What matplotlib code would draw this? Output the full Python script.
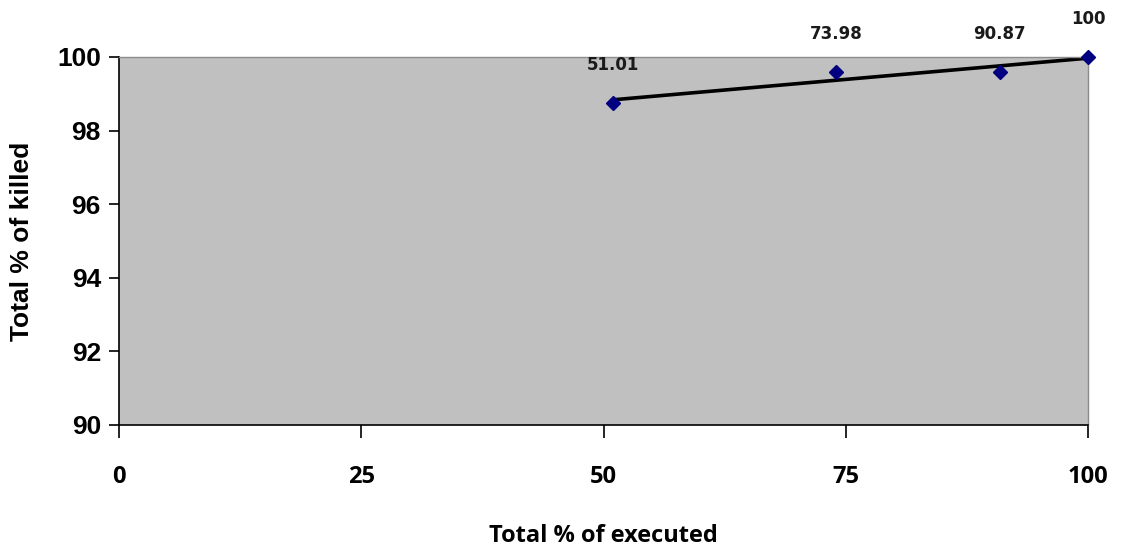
import numpy as np
import matplotlib
matplotlib.use("Agg")
import matplotlib.pyplot as plt

# Percent of mutants executed vs. percent killed
executed = [51.01, 73.98, 90.87, 100]
killed = [98.75, 99.59, 99.59, 100.0]
x_ticks = [0, 25, 50, 75, 100]
y_ticks = [90, 92, 94, 96, 98, 100]

fig = plt.figure(figsize=(11.21, 5.5), dpi=100)
ax = fig.add_axes([0.1062, 0.2273, 0.8644, 0.6691])
ax.set_facecolor("#C0C0C0")

# linear trend line over the data range
slope, intercept = np.polyfit(executed, killed, 1)
xs = np.array([min(executed), max(executed)])
ax.plot(xs, slope * xs + intercept, color="black", lw=2.6, zorder=2)

ax.plot(executed, killed, linestyle="none", marker="D", markersize=7,
        color="#000080", zorder=3, clip_on=False)

for x, y in zip(executed, killed):
    ax.annotate(f"{x:g}", (x, y), xytext=(0, 21), textcoords="offset points",
                ha="center", va="bottom", fontsize=12, fontweight="bold",
                color="#1a1a1a", family="DejaVu Sans", annotation_clip=False)

ax.set_xlim(0, 100)
ax.set_ylim(90, 100)
ax.set_xticks(x_ticks)
ax.set_yticks(y_ticks)
ax.set_xticklabels([str(t) for t in x_ticks], fontsize=17, fontweight="bold",
                   family="Open Sans", stretch="condensed")
ax.set_yticklabels([str(t) for t in y_ticks], fontsize=19, fontweight="bold",
                   family="Liberation Sans")
ax.tick_params(axis="x", direction="out", length=9, width=1.2, pad=20)
ax.tick_params(axis="y", direction="out", length=7, width=1.2, pad=6)

for side in ("left", "bottom"):
    ax.spines[side].set_color("black")
    ax.spines[side].set_linewidth(1.2)
for side in ("top", "right"):
    ax.spines[side].set_color("#8C8C8C")
    ax.spines[side].set_linewidth(1.0)

ax.set_xlabel("Total % of executed", fontsize=17, fontweight="bold",
              family="Open Sans", labelpad=25)
ax.set_ylabel("Total % of killed", fontsize=19, fontweight="bold",
              family="Liberation Sans", labelpad=17)

fig.savefig("out.png", dpi=100)
